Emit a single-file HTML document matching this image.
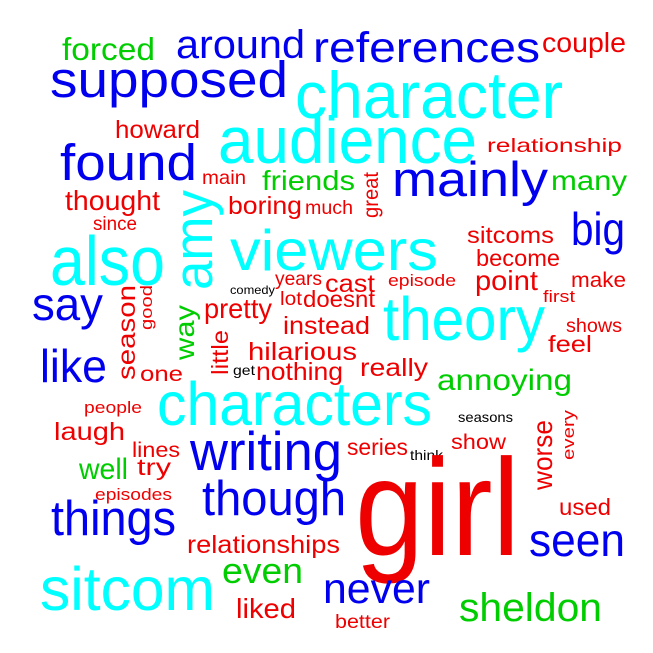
<!DOCTYPE html>
<html><head><meta charset="utf-8"><style>
html,body{margin:0;padding:0;background:#fff;}
svg{display:block;}
text{font-family:"Liberation Sans",Arial,sans-serif;}
</style></head><body>
<svg id="cloud" width="653" height="653" viewBox="0 0 653 653" xmlns="http://www.w3.org/2000/svg">
<rect width="653" height="653" fill="#fff"/>
</svg>
<script>
// words, font sizes (frequency), colours
const words = ["forced","around","references","couple","supposed","character","howard","audience","relationship","found","main","friends","mainly","many","thought","boring","much","great","amy","since","big","sitcoms","also","viewers","become","comedy","years","cast","episode","point","make","say","season","good","way","pretty","lot","doesnt","theory","first","shows","instead","like","little","hilarious","feel","one","get","nothing","really","annoying","people","characters","seasons","laugh","every","lines","writing","series","show","think","well","try","worse","episodes","though","girl","things","used","relationships","seen","sitcom","even","never","sheldon","liked","better"];
const sizes = [30,38,40,26,48,62,24,62,18,48,18,26,46,26,26,24,18,20,52,18,44,22,66,54,22,11,18,24,16,26,20,44,24,16,26,26,18,22,58,16,18,24,44,22,24,22,20,13,24,24,28,16,58,13,24,16,20,52,22,20,13,28,22,26,16,46,130,46,22,24,44,58,34,40,38,26,18];
const colorKeys = ["g","b","b","r","b","c","r","c","r","b","r","g","b","g","r","r","r","r","c","r","b","r","c","c","r","k","r","r","r","r","r","b","r","r","g","r","r","r","c","r","r","r","b","r","r","r","r","k","r","r","g","r","c","k","r","r","r","b","r","r","k","g","r","r","r","b","r","b","r","r","b","c","g","b","g","r","r"];
// layout: [left/x, baseline/bottom, width, rotated]
const layout = [[62,60,93,0],[176,58,129,0],[313,62,227,0],[542,52,84,0],[50,97,238,0],[295,118,268,0],[115,138,85,0],[218,163,259,0],[487,152,135,0],[60,180,137,0],[202,184,44,0],[262,190,93,0],[392,196,156,0],[551,190,76,0],[65,210,95,0],[228,214,74,0],[305,214,48,0],[378,218,46,1],[212,290,100,1],[93,230,44,0],[571,245,54,0],[467,243,87,0],[50,285,115,0],[230,270,208,0],[476,266,84,0],[230,294,45,0],[275,285,47,0],[325,292,50,0],[388,286,68,0],[475,290,63,0],[571,287,55,0],[32,320,71,0],[135,380,95,1],[152,330,45,1],[194,360,55,1],[204,318,68,0],[280,305,22,0],[303,307,72,0],[383,340,162,0],[543,302,32,0],[566,332,56,0],[283,334,87,0],[40,382,67,0],[228,375,45,1],[248,360,109,0],[548,352,44,0],[140,381,43,0],[233,375,22,0],[256,380,87,0],[360,376,68,0],[437,390,135,0],[84,413,58,0],[157,425,275,0],[458,422,55,0],[54,440,71,0],[574,460,50,1],[132,457,48,0],[190,470,152,0],[347,455,61,0],[451,449,55,0],[410,460,33,0],[79,479,49,0],[137,475,34,0],[552,490,70,1],[95,500,77,0],[202,515,144,0],[355,555,165,0],[51,535,125,0],[559,515,52,0],[187,553,153,0],[529,556,96,0],[40,610,175,0],[222,583,81,0],[323,603,107,0],[459,621,143,0],[236,618,60,0],[335,628,55,0]];
const palette = {c:"#00ffff", b:"#0000ee", r:"#ee0000", g:"#00cd00", k:"#000000"};
const svg = document.getElementById('cloud');
const NS = "http://www.w3.org/2000/svg";
words.forEach((w,i)=>{
  const [x,y,len,rot] = layout[i];
  const t = document.createElementNS(NS,'text');
  
  
  t.setAttribute('font-size', (sizes[i] * 1.06).toFixed(1));
  t.setAttribute('fill', palette[colorKeys[i]]);
  t.setAttribute('textLength', len);
  t.setAttribute('lengthAdjust', 'spacingAndGlyphs');
  if (rot) {
    t.setAttribute('transform', 'translate(' + x + ',' + y + ') rotate(-90)');
    t.setAttribute('x', 0); t.setAttribute('y', 0);
  } else {
    t.setAttribute('x', x); t.setAttribute('y', y);
  }
  t.textContent = w;
  svg.appendChild(t);
});
</script>
</body></html>
